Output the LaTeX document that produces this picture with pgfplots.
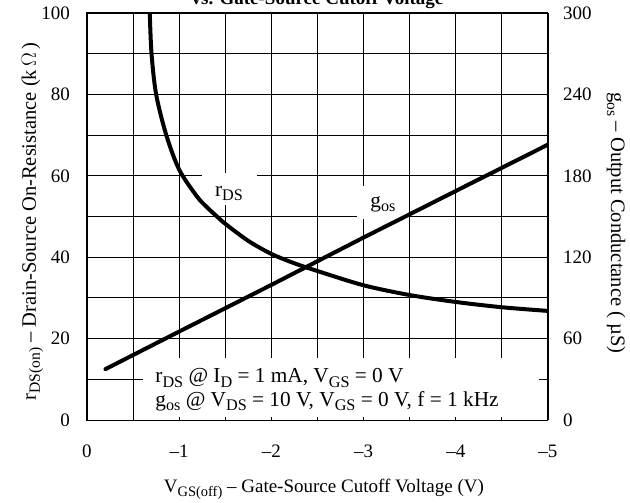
\documentclass[border=0pt]{standalone}
\usepackage{pgfplots}
\pgfplotsset{compat=1.18}
\usepackage{fontspec}
\setmainfont{Liberation Serif}
\newcommand{\fs}{\fontsize{19bp}{23bp}\selectfont}
\newcommand{\fn}{\fontsize{21.3bp}{25bp}\selectfont}
\newcommand{\fl}{\fontsize{20.5bp}{24bp}\selectfont}
\newcommand{\sub}[1]{\raisebox{-0.2em}{\fontsize{0.76em}{0.8em}\selectfont #1}}

\pgfplotstableread{
x y
-0.672 102
-0.68 100
-0.70 90
-0.75 80
-0.86 70
-1.00 61.5
-1.19 55
-1.30 52.3
-1.41 50
-1.50 48.2
-1.75 44.0
-2.00 40.8
-2.25 38.5
-2.50 36.6
-3.00 33.1
-3.50 30.7
-4.00 29.0
-4.50 27.7
-5.00 26.8
}\rds

\pgfplotstableread{
x y
-0.20 37.5
-1.00 65.2
-2.00 99.6
-3.00 134.5
-4.00 168.8
-5.00 203
}\gos

\begin{document}
\begin{tikzpicture}
\begin{axis}[
  scale only axis, width=461bp, height=407bp,
  at={(0,0)}, anchor=south west,
  xmin=-5, xmax=0, x dir=reverse,
  ymin=0, ymax=100,
  xtick={0,-1,-2,-3,-4,-5},
  xticklabels={0,–1,–2,–3,–4,–5},
  minor x tick num=1,
  ytick={0,20,40,60,80,100},
  minor y tick num=1,
  grid=both,
  major grid style={black, line width=0.8bp},
  minor grid style={black, line width=0.8bp},
  axis line style={black, line width=1bp},
  major tick length=0pt, minor tick length=0pt,
  /pgf/number format/assume math mode=true,
  tick label style={font=\fs, inner sep=0pt},
  xticklabel style={anchor=base, yshift=-37bp},
  yticklabel style={anchor=east, xshift=-17bp},
  clip mode=individual,
]
\fill[white] (axis cs:-0.607,0.7) rectangle (axis cs:-4.90,15.2);
\fill[white] (axis cs:-1.247,52.8) rectangle (axis cs:-1.844,60.7);
\fill[white] (axis cs:-2.93,49.4) rectangle (axis cs:-3.48,57.5);
\node[font=\fn, anchor=base west, inner sep=0pt] at (axis cs:-0.74,9.1) {r\sub{DS} @ I\sub{D} = 1 mA, V\sub{GS} = 0 V};
\node[font=\fn, anchor=base west, inner sep=0pt] at (axis cs:-0.74,3.4) {g\sub{os} @ V\sub{DS} = 10 V, V\sub{GS} = 0 V, f = 1 kHz};
\node[font=\fn, anchor=base, inner sep=0pt] at (axis cs:-1.54,54.9) {r\sub{DS}};
\node[font=\fn, anchor=base, inner sep=0pt] at (axis cs:-3.21,52.2) {g\sub{os}};
\addplot[black, line width=4bp, line cap=round, smooth, tension=0.5] table[x=x,y=y] {\rds};
\node[font=\fl, anchor=base, rotate=90, inner sep=0pt] at (axis description cs:-0.111,0.488) {r\sub{DS(on)} – Drain-Source On-Resistance (k$\,\Omega\,$)};
\node[font=\fs, anchor=base, inner sep=0pt] at (axis description cs:0.514,-0.179) {V\sub{GS(off)} – Gate-Source Cutoff Voltage (V)};
\node[font=\fs\bfseries, anchor=base, inner sep=0pt] at (axis description cs:0.5,1.021) {vs. Gate-Source Cutoff Voltage};
\end{axis}
\begin{axis}[
  scale only axis, width=461bp, height=407bp,
  at={(0,0)}, anchor=south west,
  xmin=-5, xmax=0, x dir=reverse,
  ymin=0, ymax=300,
  axis x line=none,
  axis y line*=right,
  axis line style={black, line width=1bp},
  ytick={0,60,120,180,240,300},
  major tick length=0pt,
  /pgf/number format/assume math mode=true,
  tick label style={font=\fs, inner sep=0pt},
  yticklabel style={anchor=west, xshift=15bp},
  clip mode=individual,
]
\addplot[black, line width=4bp, line cap=round] table[x=x,y=y] {\gos};
\node[font=\fl, anchor=base, rotate=-90, inner sep=0pt] at (axis description cs:1.137,0.484) {g\sub{os} – Output Conductance ( µS)};
\end{axis}
\pgfresetboundingbox
\path (-87bp,-83bp) rectangle (543bp,420bp);
\end{tikzpicture}
\end{document}
